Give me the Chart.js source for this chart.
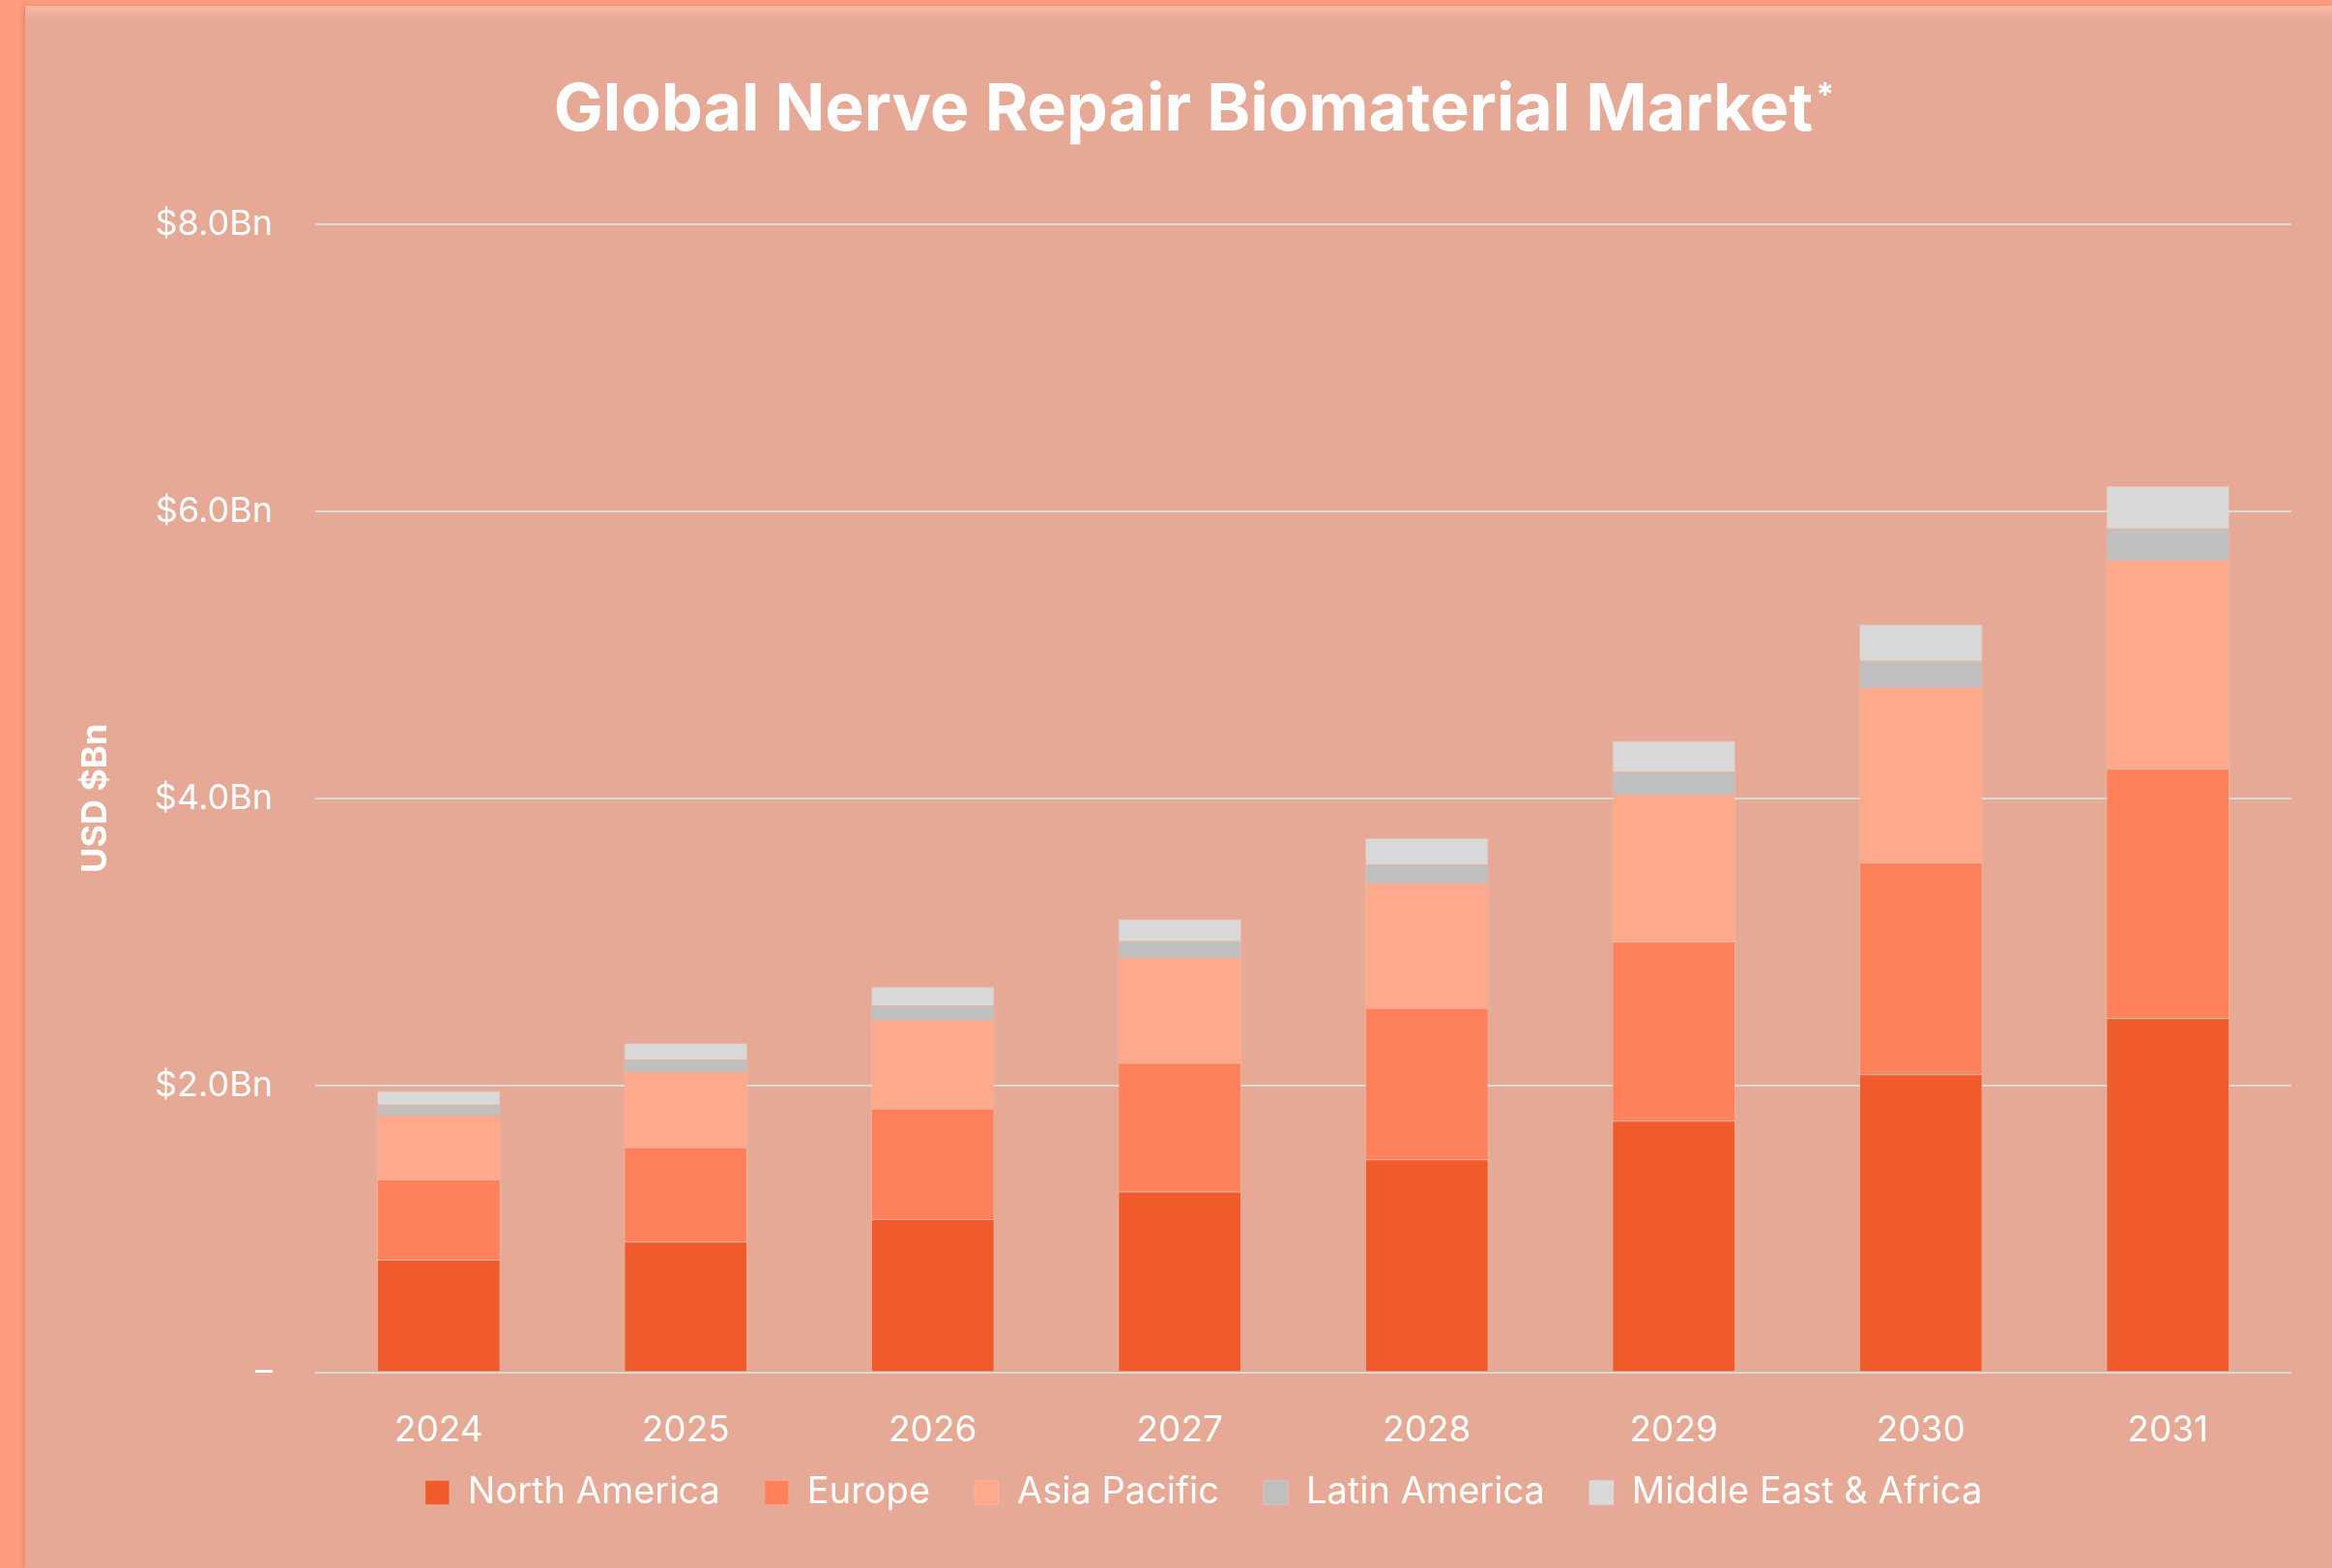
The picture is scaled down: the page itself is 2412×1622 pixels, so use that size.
<!DOCTYPE html>
<html lang="en">
<head>
    <meta charset="UTF-8">
    <title>Global Nerve Repair Biomaterial Market</title>
    <script src="https://cdn.jsdelivr.net/npm/chart.js"></script>
    <style>
        html, body {
            margin: 0;
            padding: 0;
        }
        body {
            width: 2412px;
            height: 1622px;
            background: #FF9C7F;
            overflow: hidden;
            font-family: 'Inter', sans-serif;
        }
        .panel {
            position: absolute;
            left: 26px;
            top: 6px;
            width: 2386px;
            height: 1616px;
            background: linear-gradient(#F7B9A1 0px, #E5A995 16px);
            box-shadow: -2px 0 5px rgba(150, 70, 40, 0.25);
        }
    </style>
</head>
<body>
    <div class="panel">
        <canvas id="marketChart"></canvas>
    </div>

    <script>
        // Data (USD $Bn)
        const years = ['2024', '2025', '2026', '2027', '2028', '2029', '2030', '2031'];
        const northAmerica = [0.785, 0.912, 1.069, 1.260, 1.484, 1.753, 2.077, 2.468];
        const europe = [0.560, 0.657, 0.769, 0.896, 1.055, 1.248, 1.475, 1.738];
        const asiaPacific = [0.448, 0.526, 0.616, 0.733, 0.868, 1.026, 1.219, 1.452];
        const latinAmerica = [0.072, 0.083, 0.099, 0.114, 0.134, 0.157, 0.186, 0.222];
        const middleEastAfrica = [0.098, 0.117, 0.136, 0.157, 0.181, 0.217, 0.256, 0.298];

        const seriesNames = ['North America', 'Europe', 'Asia Pacific', 'Latin America', 'Middle East & Africa'];
        const seriesColors = ['#F05B2B', '#FF815C', '#FFA98C', '#BFBFBF', '#D9D9D9'];
        const seriesData = [northAmerica, europe, asiaPacific, latinAmerica, middleEastAfrica];

        const titleText = 'Global Nerve Repair Biomaterial Market';
        const fontFamily = "'Inter', 'Noto Sans', sans-serif";

        Chart.defaults.font.family = fontFamily;
        Chart.defaults.color = '#FFFFFF';

        // Title with a small raised asterisk, drawn on the canvas
        const titlePlugin = {
            id: 'superTitle',
            afterDraw(chart) {
                const c = chart.ctx;
                c.save();
                c.fillStyle = '#FFFFFF';
                c.textAlign = 'left';
                c.textBaseline = 'alphabetic';
                c.font = 'bold 68px ' + fontFamily;
                const w = c.measureText(titleText).width;
                const x0 = 1198 - w / 2;
                c.fillText(titleText, x0, 129);
                c.font = 'bold 34px ' + fontFamily;
                const m = c.measureText('*');
                c.fillText('*', x0 + w + 3, 79 + m.actualBoundingBoxAscent);
                c.restore();
            }
        };

        // Nudge the legend and let the x labels paint below their box
        const layoutPlugin = {
            id: 'layoutTweaks',
            afterLayout(chart) {
                chart.legend.left += 47;
                chart.legend.right += 47;
                chart.scales.x.bottom = chart.height;
            }
        };

        const ctx = document.getElementById('marketChart').getContext('2d');
        const chart = new Chart(ctx, {
            type: 'bar',
            data: {
                labels: years,
                datasets: seriesNames.map((name, i) => ({
                    label: name,
                    data: seriesData[i],
                    backgroundColor: seriesColors[i],
                    borderColor: 'rgba(255,255,255,0.18)',
                    borderWidth: 1,
                    categoryPercentage: 0.8,
                    barPercentage: 0.625
                }))
            },
            plugins: [titlePlugin, layoutPlugin],
            options: {
                responsive: true,
                maintainAspectRatio: false,
                animation: false,
                layout: {
                    padding: { left: 0, right: 42, top: 226, bottom: 49 }
                },
                plugins: {
                    title: { display: false },
                    legend: {
                        position: 'bottom',
                        labels: {
                            boxWidth: 25,
                            boxHeight: 25,
                            padding: 46,
                            color: '#FFFFFF',
                            font: { size: 38 }
                        }
                    },
                    tooltip: { enabled: false }
                },
                scales: {
                    x: {
                        stacked: true,
                        grid: { display: false },
                        border: { display: false },
                        ticks: {
                            color: '#FFFFFF',
                            font: { size: 37 },
                            padding: 30
                        },
                        // let the plot reach down into the space above the legend
                        afterFit: scale => { scale.height -= 53; }
                    },
                    y: {
                        stacked: true,
                        min: 0,
                        max: 8,
                        grid: {
                            color: '#D9D9D9',
                            lineWidth: 2,
                            drawTicks: false
                        },
                        border: { display: false },
                        ticks: {
                            stepSize: 2,
                            color: '#FFFFFF',
                            font: { size: 36 },
                            padding: 44,
                            callback: v => v === 0 ? '–' : '$' + v.toFixed(1) + 'Bn'
                        },
                        title: {
                            display: true,
                            text: 'USD $Bn',
                            color: '#FFFFFF',
                            font: { size: 36, weight: 'bold' },
                            padding: { top: 52, bottom: 0 }
                        },
                        afterFit: scale => { scale.width = 300; }
                    }
                }
            }
        });
    </script>
</body>
</html>
